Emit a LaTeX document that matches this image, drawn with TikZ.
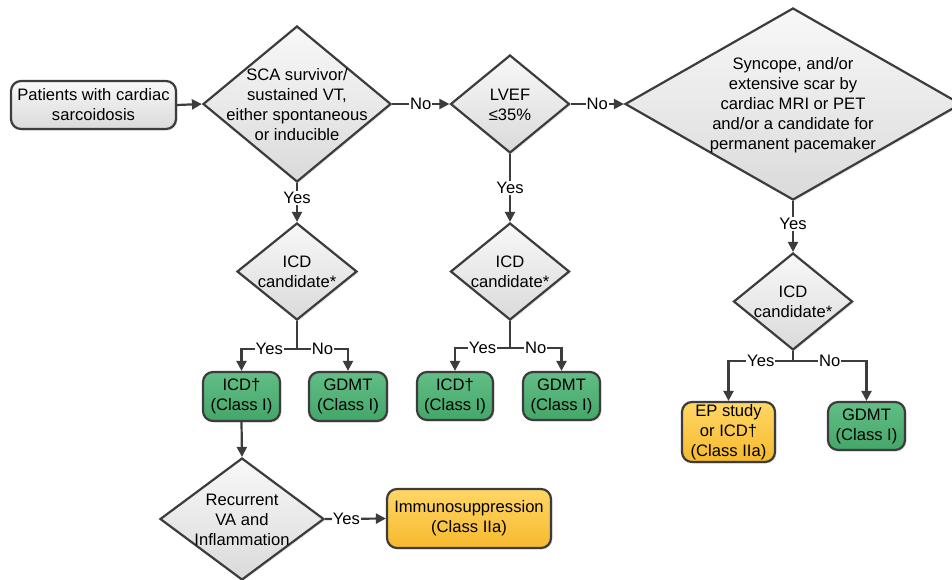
\documentclass[tikz,border=0pt]{standalone}
\usepackage{fontspec}
\setmainfont{Liberation Sans}
\usetikzlibrary{shapes.geometric,arrows.meta,shadows}
\definecolor{edgec}{HTML}{3C3C3C}
\definecolor{grayA}{HTML}{F8F8F8}
\definecolor{grayB}{HTML}{DADADA}
\definecolor{greenA}{HTML}{62BE86}
\definecolor{greenB}{HTML}{44A669}
\definecolor{yellowA}{HTML}{FFD766}
\definecolor{yellowB}{HTML}{F6B92C}
\begin{document}
\begin{tikzpicture}[x=1pt,y=-1pt,
  fnt/.style={font=\fontsize{16.6}{20}\selectfont},
  base/.style={draw=edgec, line width=2.2pt, fnt, align=center, inner sep=0pt,
    drop shadow={opacity=0.2,shadow xshift=1.5pt,shadow yshift=-1.5pt}},
  graybox/.style={base, rounded corners=10pt, top color=grayA, bottom color=grayB},
  greenbox/.style={base, rounded corners=10pt, top color=greenA, bottom color=greenB},
  yellowbox/.style={base, rounded corners=10pt, top color=yellowA, bottom color=yellowB},
  dia/.style={base, diamond, top color=grayA, bottom color=grayB},
  txt/.style={fnt, align=center, inner sep=0pt},
  conn/.style={draw=edgec, line width=2.2pt, -{Triangle[length=10pt,width=10pt]}},
  plainline/.style={draw=edgec, line width=2.2pt},
  lab/.style={fnt, fill=white, inner sep=1pt}]
\useasboundingbox (0,0) rectangle (952,579);

% boxes
\node[graybox, minimum width=165pt, minimum height=48pt] (start) at (93.5,105) {Patients with cardiac\\sarcoidosis};

% diamonds
\node[dia, minimum width=188pt, minimum height=156pt] (d1) at (297,104) {};
\node[txt] (d1t) at (297,105) {SCA survivor/\\sustained VT,\\either spontaneous\\or inducible};
\node[dia, minimum width=119pt, minimum height=98pt] (d2) at (510,104) {};
\node[txt] (d2t) at (510,105) {LVEF\\≤35\%};
\node[dia, minimum width=336pt, minimum height=192pt] (d3) at (793,104) {};
\node[txt] (d3t) at (793,105) {Syncope, and/or\\extensive scar by\\cardiac MRI or PET\\and/or a candidate for\\permanent pacemaker};

\node[dia, minimum width=120pt, minimum height=97pt] (c1) at (297,271.5) {};
\node[txt] (c1t) at (297,272) {ICD\\candidate*};
\node[dia, minimum width=119pt, minimum height=97pt] (c2) at (510,271.5) {};
\node[txt] (c2t) at (510,272) {ICD\\candidate*};
\node[dia, minimum width=119pt, minimum height=97pt] (c3) at (793,301.5) {};
\node[txt] (c3t) at (793,302) {ICD\\candidate*};

\node[dia, minimum width=164pt, minimum height=122pt] (rec) at (242,519) {};
\node[txt] (rect) at (242,520) {Recurrent\\VA and\\Inflammation};

% outcome boxes
\node[greenbox, minimum width=77pt, minimum height=49pt] (icd1) at (241.5,396.5) {ICD†\\(Class I)};
\node[greenbox, minimum width=78pt, minimum height=49pt] (gdmt1) at (348,396.5) {GDMT\\(Class I)};
\node[greenbox, minimum width=76pt, minimum height=48pt] (icd2) at (455,396) {ICD†\\(Class I)};
\node[greenbox, minimum width=77pt, minimum height=48pt] (gdmt2) at (561.5,396) {GDMT\\(Class I)};
\node[yellowbox, minimum width=93pt, minimum height=60pt] (ep) at (728.5,432) {EP study\\or ICD†\\(Class IIa)};
\node[greenbox, minimum width=77pt, minimum height=48pt] (gdmt3) at (866.5,426) {GDMT\\(Class I)};
\node[yellowbox, minimum width=164pt, minimum height=59pt] (imm) at (469,518.5) {Immunosuppression\\(Class IIa)};

% junctions
\coordinate (j1) at (297,349);
\coordinate (j2) at (510,348);
\coordinate (j3) at (793,361);

% connectors
\draw[conn] (start.east) -- (d1.west);
\draw[conn] (d1.east) -- node[lab]{No} (d2.west);
\draw[conn] (d2.east) -- node[lab]{No} (d3.west);
\draw[conn] (d1.south) -- node[lab, pos=0.38]{Yes} (c1.north);
\draw[conn] (d2.south) -- node[lab, pos=0.5]{Yes} (c2.north);
\draw[conn] (d3.south) -- node[lab, pos=0.45]{Yes} (c3.north);

\draw[plainline] (c1.south) -- (j1);
\draw[conn] (j1) -| node[lab, pos=0.25]{Yes} (icd1.north);
\draw[conn] (j1) -| node[lab, pos=0.25]{No} (gdmt1.north);
\draw[plainline] (c2.south) -- (j2);
\draw[conn] (j2) -| node[lab, pos=0.25]{Yes} (icd2.north);
\draw[conn] (j2) -| node[lab, pos=0.25]{No} (gdmt2.north);
\draw[plainline] (c3.south) -- (j3);
\draw[conn] (j3) -| node[lab, pos=0.25]{Yes} (ep.north);
\draw[conn] (j3) -| node[lab, pos=0.25]{No} (gdmt3.north);

\draw[conn] (icd1.south) -- (rec.north);
\draw[conn] (rec.east) -- node[lab, pos=0.35]{Yes} (imm.west);
\end{tikzpicture}
\end{document}
